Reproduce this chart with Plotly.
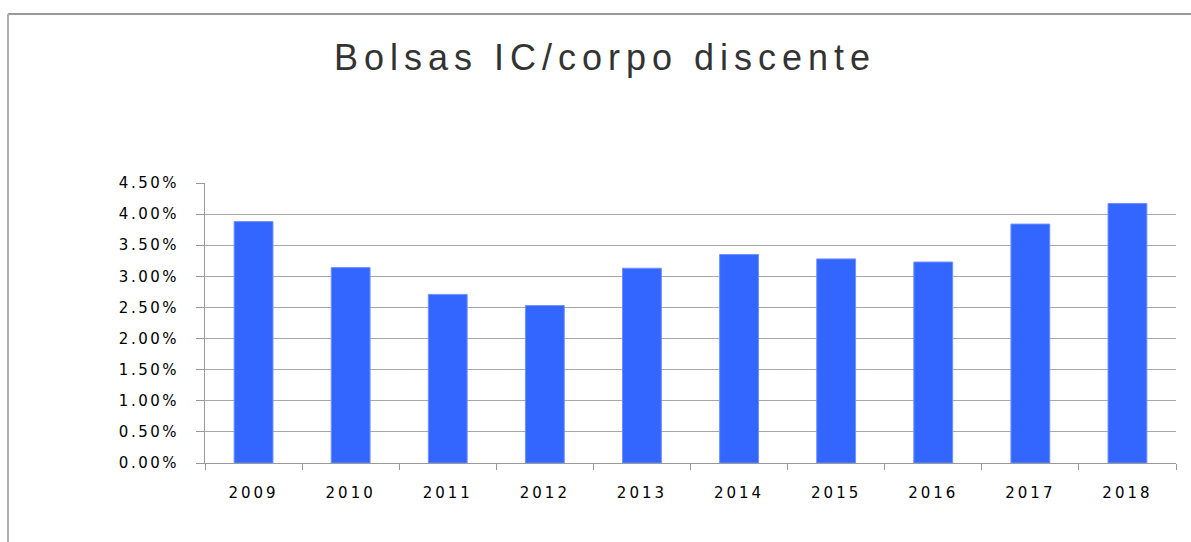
import plotly.graph_objects as go

# dados
anos = ["2009", "2010", "2011", "2012", "2013", "2014", "2015", "2016", "2017", "2018"]
bolsas_pct = [0.0388, 0.0314, 0.0271, 0.0253, 0.0313, 0.0335, 0.0328, 0.0323, 0.0384, 0.0417]
y_ticks = [0, 0.005, 0.01, 0.015, 0.02, 0.025, 0.03, 0.035, 0.04, 0.045]
titulo = "Bolsas IC/corpo discente"


def espacado(txt, px):
    return f'<span style="letter-spacing:{px}px">{txt}</span>'


W, H = 1191, 542
L, R, T, B = 205, 15, 183, 79

fig = go.Figure(go.Bar(
    x=anos,
    y=bolsas_pct,
    marker=dict(color="#3366FF", line=dict(color="#7090ff", width=1)),
))

# moldura externa (só topo e lado esquerdo aparecem)
pw, ph = W - L - R, H - T - B
def px_x(px): return (px - L) / pw
def px_y(py): return (H - B - py) / ph

fig.add_shape(type="line", xref="paper", yref="paper",
              x0=px_x(8), x1=px_x(1200), y0=px_y(14), y1=px_y(14),
              line=dict(color="#9a9a9a", width=2))
fig.add_shape(type="line", xref="paper", yref="paper",
              x0=px_x(8), x1=px_x(8), y0=px_y(14), y1=px_y(560),
              line=dict(color="#b0b0b0", width=2))

fig.update_layout(
    width=W, height=H,
    margin=dict(l=L, r=R, t=T, b=B),
    paper_bgcolor="white",
    plot_bgcolor="white",
    bargap=0.6,
    showlegend=False,
    title=dict(
        text=espacado(titulo, 6),
        x=0.508, xanchor="center",
        y=1 - 70 / H, yanchor="bottom",
        yref="container",
        font=dict(family="Liberation Sans, Arial", size=36, color="#333333"),
    ),
    xaxis=dict(
        type="category",
        tickvals=anos,
        ticktext=[espacado(a, 3) for a in anos],
        tickson="boundaries",
        ticks="outside", ticklen=6, tickcolor="#999999",
        showline=True, linecolor="#999999", linewidth=1,
        showgrid=False,
        tickfont=dict(family="DejaVu Sans, Verdana", size=15, color="#000000"),
        ticklabelstandoff=16,
    ),
    yaxis=dict(
        range=[0, 0.045],
        tickvals=y_ticks,
        ticktext=[espacado(f"{v * 100:.2f}%", 2.5) for v in y_ticks],
        ticks="outside", ticklen=8, tickcolor="#999999",
        showline=True, linecolor="#999999", linewidth=1,
        showgrid=True, gridcolor="#a8a8a8", gridwidth=1,
        zeroline=False,
        tickfont=dict(family="DejaVu Sans, Verdana", size=15, color="#000000"),
        ticklabelstandoff=14,
    ),
)

fig.write_html("out.html", config={"displayModeBar": False},
               post_script="document.body.style.margin='0';")
